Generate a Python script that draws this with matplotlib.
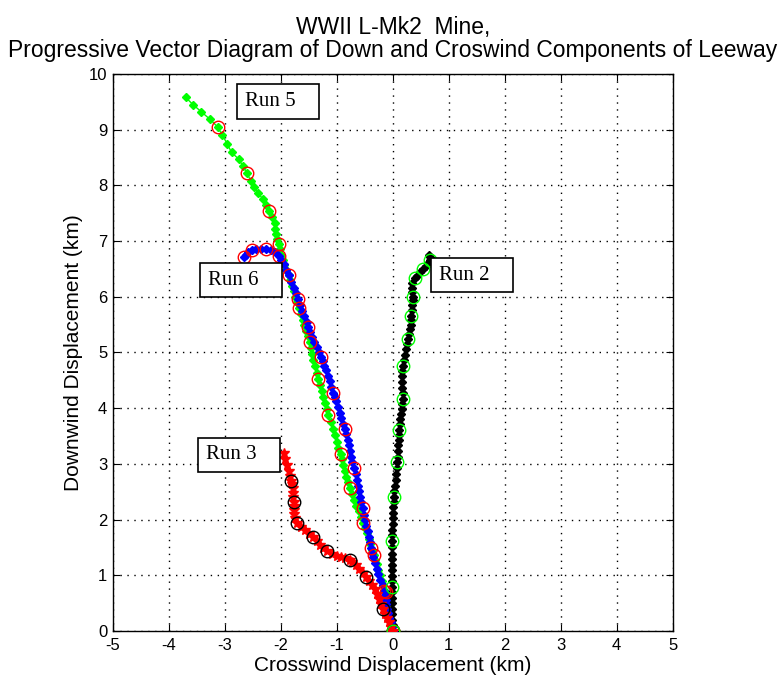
import matplotlib.pyplot as plt

plt.rcParams['font.family'] = ['Liberation Sans', 'DejaVu Sans']
plt.rcParams['axes.unicode_minus'] = False

# Run 5 (green, red circles)
run5_x = [0, -0.02, -0.04, -0.06, -0.08, -0.10, -0.11, -0.13, -0.17, -0.20, -0.23, -0.26, -0.28, -0.31,
          -0.34, -0.37, -0.40, -0.43, -0.46, -0.50, -0.54, -0.57, -0.61, -0.65, -0.69, -0.73, -0.77,
          -0.80, -0.83, -0.86, -0.89, -0.91, -0.93, -0.97, -1.00, -1.04, -1.07, -1.11, -1.15, -1.18,
          -1.21, -1.24, -1.27, -1.30, -1.33, -1.36, -1.39, -1.42, -1.44, -1.46, -1.48, -1.51, -1.55,
          -1.58, -1.61, -1.64, -1.68, -1.71, -1.74, -1.77, -1.80, -1.83, -1.86, -1.90, -1.94, -1.97,
          -2.00, -2.02, -2.04, -2.07, -2.09, -2.10, -2.11, -2.15, -2.21, -2.27, -2.32, -2.41, -2.48,
          -2.54, -2.60, -2.68, -2.75, -2.88, -2.96, -3.05, -3.13, -3.27, -3.42, -3.57, -3.70]
run5_y = [0, 0.10, 0.20, 0.30, 0.40, 0.50, 0.60, 0.70, 0.80, 0.90, 1.00, 1.10, 1.20, 1.28,
          1.36, 1.46, 1.56, 1.66, 1.76, 1.85, 1.94, 2.05, 2.15, 2.25, 2.36, 2.46, 2.57,
          2.67, 2.77, 2.88, 2.98, 3.08, 3.18, 3.29, 3.40, 3.52, 3.63, 3.75, 3.87, 3.98,
          4.09, 4.20, 4.31, 4.42, 4.53, 4.64, 4.75, 4.86, 4.97, 5.08, 5.19, 5.29, 5.39,
          5.49, 5.59, 5.69, 5.79, 5.90, 6.00, 6.10, 6.20, 6.30, 6.39, 6.48, 6.57, 6.66,
          6.75, 6.85, 6.95, 7.03, 7.12, 7.22, 7.32, 7.43, 7.54, 7.65, 7.75, 7.87, 7.97,
          8.08, 8.22, 8.35, 8.47, 8.59, 8.75, 8.91, 9.05, 9.19, 9.32, 9.45, 9.58]
run5_cx = [0, -0.13, -0.34, -0.54, -0.77, -0.93, -1.15, -1.33, -1.48, -1.68, -2.04, -2.21, -2.60, -3.13]
run5_cy = [0, 0.70, 1.36, 1.94, 2.57, 3.18, 3.87, 4.53, 5.19, 5.79, 6.95, 7.54, 8.22, 9.05]

# Run 6 (blue, red circles)
run6_x = [0, -0.02, -0.04, -0.06, -0.08, -0.10, -0.12, -0.13, -0.14, -0.15, -0.18, -0.22, -0.26, -0.29,
          -0.32, -0.35, -0.37, -0.39, -0.41, -0.43, -0.45, -0.47, -0.49, -0.51, -0.54, -0.56, -0.58,
          -0.60, -0.62, -0.64, -0.66, -0.70, -0.72, -0.74, -0.76, -0.78, -0.80, -0.83, -0.86, -0.89,
          -0.92, -0.95, -0.98, -1.01, -1.04, -1.07, -1.10, -1.13, -1.16, -1.19, -1.22, -1.25, -1.29,
          -1.32, -1.36, -1.40, -1.44, -1.47, -1.51, -1.54, -1.58, -1.62, -1.66, -1.70, -1.73, -1.77,
          -1.81, -1.86, -1.90, -1.95, -2.00, -2.04, -2.10, -2.18, -2.27, -2.35, -2.44, -2.52, -2.58,
          -2.63, -2.66]
run6_y = [0, 0.08, 0.16, 0.24, 0.32, 0.40, 0.48, 0.56, 0.64, 0.72, 0.82, 0.92, 1.02, 1.12,
          1.22, 1.32, 1.40, 1.49, 1.59, 1.69, 1.79, 1.89, 1.99, 2.09, 2.21, 2.31, 2.41,
          2.51, 2.61, 2.71, 2.81, 2.93, 3.03, 3.13, 3.23, 3.33, 3.43, 3.53, 3.62, 3.72,
          3.82, 3.92, 4.02, 4.12, 4.20, 4.28, 4.38, 4.48, 4.58, 4.68, 4.76, 4.84, 4.91,
          5.00, 5.10, 5.19, 5.28, 5.37, 5.46, 5.55, 5.65, 5.75, 5.85, 5.96, 6.06, 6.16,
          6.26, 6.39, 6.48, 6.58, 6.66, 6.73, 6.80, 6.84, 6.86, 6.86, 6.85, 6.84, 6.80,
          6.75, 6.71]
run6_cx = [0, -0.15, -0.39, -0.54, -0.70, -0.86, -1.07, -1.29, -1.51, -1.70, -1.86, -2.04, -2.27, -2.52, -2.66]
run6_cy = [0, 0.72, 1.49, 2.21, 2.93, 3.62, 4.28, 4.91, 5.46, 5.96, 6.39, 6.73, 6.86, 6.84, 6.71]

# Run 3 (red, black circles)
run3_x = [0, -0.03, -0.06, -0.10, -0.14, -0.18, -0.21, -0.24, -0.28, -0.32, -0.37, -0.42, -0.48,
          -0.54, -0.60, -0.66, -0.72, -0.77, -0.85, -0.93, -1.00, -1.08, -1.18, -1.24, -1.30,
          -1.36, -1.43, -1.50, -1.57, -1.64, -1.71, -1.74, -1.76, -1.77, -1.77, -1.77, -1.78,
          -1.78, -1.79, -1.80, -1.81, -1.83, -1.86, -1.89, -1.92, -1.95]
run3_y = [0, 0.08, 0.16, 0.24, 0.31, 0.39, 0.48, 0.57, 0.66, 0.75, 0.83, 0.90, 0.97,
          1.04, 1.11, 1.18, 1.24, 1.28, 1.31, 1.33, 1.35, 1.38, 1.43, 1.49, 1.55,
          1.61, 1.69, 1.75, 1.81, 1.87, 1.94, 2.02, 2.10, 2.18, 2.25, 2.32, 2.40,
          2.48, 2.56, 2.63, 2.69, 2.78, 2.88, 2.98, 3.08, 3.19]
run3_cx = [0, -0.18, -0.48, -0.77, -1.18, -1.43, -1.71, -1.77, -1.81]
run3_cy = [0, 0.39, 0.97, 1.28, 1.43, 1.69, 1.94, 2.32, 2.69]

# Run 2 (black, green circles)
run2_x = [0, 0.0, -0.01, -0.01, -0.02, -0.02, -0.02, -0.02, -0.02, -0.02, -0.02, -0.02, -0.02,
          -0.02, -0.02, -0.02, -0.02, -0.01, -0.01, 0.0, 0.0, 0.01, 0.01, 0.02, 0.02, 0.03,
          0.04, 0.05, 0.06, 0.07, 0.08, 0.09, 0.10, 0.10, 0.11, 0.11, 0.11, 0.12, 0.13, 0.14,
          0.16, 0.17, 0.18, 0.18, 0.17, 0.17, 0.17, 0.17, 0.18, 0.20, 0.22, 0.24, 0.26, 0.27,
          0.29, 0.31, 0.32, 0.33, 0.33, 0.34, 0.35, 0.36, 0.36, 0.35, 0.34, 0.35, 0.39, 0.44,
          0.49, 0.54, 0.60, 0.65, 0.67, 0.66, 0.64]
run2_y = [0, 0.10, 0.20, 0.30, 0.40, 0.50, 0.60, 0.70, 0.79, 0.89, 0.99, 1.09, 1.19,
          1.29, 1.39, 1.50, 1.62, 1.72, 1.82, 1.92, 2.02, 2.12, 2.22, 2.32, 2.41, 2.51,
          2.61, 2.71, 2.81, 2.92, 3.03, 3.13, 3.23, 3.33, 3.43, 3.52, 3.61, 3.71, 3.80, 3.89,
          3.98, 4.08, 4.17, 4.27, 4.37, 4.47, 4.57, 4.67, 4.76, 4.86, 4.96, 5.06, 5.16, 5.25,
          5.34, 5.42, 5.50, 5.58, 5.66, 5.76, 5.86, 5.94, 6.00, 6.08, 6.16, 6.24, 6.33, 6.38,
          6.44, 6.50, 6.56, 6.62, 6.66, 6.71, 6.75]
run2_cx = [0, -0.02, -0.02, 0.02, 0.08, 0.11, 0.18, 0.18, 0.27, 0.33, 0.36, 0.39, 0.54, 0.67]
run2_cy = [0, 0.79, 1.62, 2.41, 3.03, 3.61, 4.17, 4.76, 5.25, 5.66, 6.00, 6.33, 6.50, 6.66]

labels = ['Run 5', 'Run 6', 'Run 3', 'Run 2']
label_x = [-2.64, -3.30, -3.34, 0.82]
label_y = [9.51, 6.30, 3.16, 6.39]

fig = plt.figure(figsize=(7.84, 6.79), dpi=100)
ax = fig.add_axes([0.144, 0.0707, 0.714, 0.8204])

ax.plot(run5_x, run5_y, '-', color='#00ff00', lw=1, marker='D', ms=4.5, mec='#00ff00', zorder=2)
ax.plot(run2_x, run2_y, '-', color='black', lw=1, marker='D', ms=4.5, zorder=2)
ax.plot(run6_x, run6_y, '-', color='#0000ff', lw=1, marker='D', ms=4.5, zorder=3)
ax.plot(run3_x, run3_y, '-', color='#ff0000', lw=2, marker='*', ms=7, zorder=4)

ax.plot(run5_cx, run5_cy, 'o', mfc='none', mec='#ff0000', ms=9, mew=1, zorder=5)
ax.plot(run6_cx, run6_cy, 'o', mfc='none', mec='#ff0000', ms=9, mew=1, zorder=5)
ax.plot(run3_cx, run3_cy, 'o', mfc='none', mec='black', ms=9, mew=1, zorder=5)
ax.plot(run2_cx, run2_cy, 'o', mfc='none', mec='#00ff00', ms=9, mew=1, zorder=5)

for t, x, y in zip(labels, label_x, label_y):
    ax.text(x, y, t + '   ', family='Liberation Serif', fontsize=15, ha='left', va='center',
            bbox=dict(boxstyle='square,pad=0.38', fc='white', ec='black', lw=1.2), zorder=6)

ax.set_xlim(-5, 5)
ax.set_ylim(0, 10)
ax.set_xticks(range(-5, 6))
ax.set_yticks(range(0, 11))
ax.grid(True, color='black', linestyle=(0, (1, 4)), linewidth=1)
ax.tick_params(direction='in', top=True, right=True, labelsize=12, length=5)
ax.tick_params(axis='x', pad=5)
ax.tick_params(axis='y', pad=4)
for s in ax.spines.values():
    s.set_linewidth(1)

ax.set_title('WWII L-Mk2  Mine,\nProgressive Vector Diagram of Down and Croswind Components of Leeway',
             fontsize=16.5, pad=12, linespacing=1.0)
ax.set_xlabel('Crosswind Displacement (km)', fontsize=15, labelpad=2)
ax.set_ylabel('Downwind Displacement (km)', fontsize=15, labelpad=4)

fig.savefig('out.png', dpi=100)
